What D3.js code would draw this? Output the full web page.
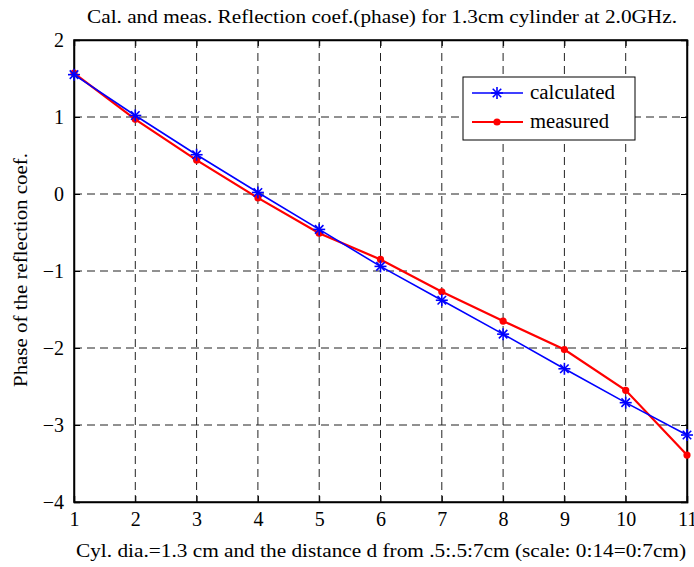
<!DOCTYPE html>
<meta charset="utf-8">
<script src="https://d3js.org/d3.v7.min.js"></script>
<style>
  body { margin: 0; background: #fff; }
  text { font-family: "Liberation Serif", "DejaVu Serif", serif; fill: #000; }
</style>
<div id="chart"></div>
<script>

// data
var xs = [1, 2, 3, 4, 5, 6, 7, 8, 9, 10, 11];
var calculated = [1.55, 1.02, 0.51, 0.02, -0.46, -0.94, -1.38, -1.82, -2.27, -2.71, -3.13];
var measured = [1.57, 0.97, 0.44, -0.05, -0.51, -0.85, -1.27, -1.65, -2.02, -2.55, -3.39];
var xTicks = [1, 2, 3, 4, 5, 6, 7, 8, 9, 10, 11];
var yTicks = [-4, -3, -2, -1, 0, 1, 2];

var W = 694, H = 567;
var margin = {top: 40, right: 7, bottom: 65, left: 74},
    width = W - margin.left - margin.right,
    height = H - margin.top - margin.bottom;

var svg = d3.select("#chart").append("svg")
    .attr("width", W).attr("height", H);
var g = svg.append("g")
    .attr("transform", "translate(" + margin.left + "," + margin.top + ")");

var x = d3.scaleLinear().domain([1, 11]).range([0, width]);
var y = d3.scaleLinear().domain([-4, 2]).range([height, 0]);

// dashed grid
g.append("g").selectAll("line").data(xTicks.slice(1, -1)).enter().append("line")
    .attr("x1", d => x(d)).attr("x2", d => x(d))
    .attr("y1", 0).attr("y2", height)
    .attr("stroke", "#222").attr("stroke-width", 1).attr("stroke-dasharray", "8,5");
g.append("g").selectAll("line").data(yTicks.slice(1, -1)).enter().append("line")
    .attr("y1", d => y(d)).attr("y2", d => y(d))
    .attr("x1", 0).attr("x2", width)
    .attr("stroke", "#222").attr("stroke-width", 1).attr("stroke-dasharray", "8,5");

// axes (ticks pointing in, like matlab)
g.append("g").attr("transform", "translate(0," + height + ")")
    .call(d3.axisBottom(x).tickValues(xTicks).tickSize(-6).tickPadding(10).tickFormat(d3.format("d")));
g.append("g")
    .call(d3.axisLeft(y).tickValues(yTicks).tickSize(-6).tickPadding(10)
      .tickFormat(d => d < 0 ? "\u2212" + Math.abs(d) : d));
g.append("g").call(d3.axisTop(x).tickValues(xTicks).tickSize(-6).tickFormat(""));
g.append("g").attr("transform", "translate(" + width + ",0)")
    .call(d3.axisRight(y).tickValues(yTicks).tickSize(-6).tickFormat(""));
g.selectAll(".domain").attr("stroke", "#000").attr("stroke-width", 1.5);
g.selectAll(".tick line").attr("stroke", "#000");
g.selectAll(".tick text").style("font-size", "20px").attr("fill", "#000");

// box
g.append("rect").attr("width", width).attr("height", height)
    .attr("fill", "none").attr("stroke", "#000").attr("stroke-width", 1.5);

var line = d3.line().x((d, i) => x(xs[i])).y(d => y(d));

// asterisk marker
function star(sel, cx, cy, r, color) {
  [0, 45, 90, 135].forEach(function(deg) {
    var rad = deg * Math.PI / 180;
    sel.append("line")
      .attr("x1", cx - r * Math.cos(rad)).attr("y1", cy - r * Math.sin(rad))
      .attr("x2", cx + r * Math.cos(rad)).attr("y2", cy + r * Math.sin(rad))
      .attr("stroke", color).attr("stroke-width", 1.6);
  });
}

// measured (red)
g.append("path").datum(measured).attr("d", line)
    .attr("fill", "none").attr("stroke", "#ff0000").attr("stroke-width", 2.2);
g.append("g").selectAll("circle").data(measured).enter().append("circle")
    .attr("cx", (d, i) => x(xs[i])).attr("cy", d => y(d)).attr("r", 3.6)
    .attr("fill", "#ff0000");

// calculated (blue)
g.append("path").datum(calculated).attr("d", line)
    .attr("fill", "none").attr("stroke", "#0000ff").attr("stroke-width", 1.6);
var starG = g.append("g");
calculated.forEach(function(d, i) { star(starG, x(xs[i]), y(d), 6, "#0000ff"); });

// legend
var lg = svg.append("g");
lg.append("rect").attr("x", 463).attr("y", 77).attr("width", 172).attr("height", 63)
    .attr("fill", "#fff").attr("stroke", "#000").attr("stroke-width", 1);
lg.append("line").attr("x1", 472).attr("x2", 523).attr("y1", 93).attr("y2", 93)
    .attr("stroke", "#0000ff").attr("stroke-width", 1.6);
star(lg, 497, 93, 6, "#0000ff");
lg.append("line").attr("x1", 472).attr("x2", 523).attr("y1", 122).attr("y2", 122)
    .attr("stroke", "#ff0000").attr("stroke-width", 2.2);
lg.append("circle").attr("cx", 497).attr("cy", 122).attr("r", 3.6).attr("fill", "#ff0000");
lg.append("text").attr("x", 530).attr("y", 99).style("font-size", "20px")
    .attr("textLength", 85).attr("lengthAdjust", "spacingAndGlyphs").text("calculated");
lg.append("text").attr("x", 530).attr("y", 128).style("font-size", "20px")
    .attr("textLength", 79).attr("lengthAdjust", "spacingAndGlyphs").text("measured");

// titles
svg.append("text").attr("x", 382).attr("y", 23).attr("text-anchor", "middle")
    .style("font-size", "19px").attr("textLength", 590).attr("lengthAdjust", "spacingAndGlyphs")
    .text("Cal. and meas. Reflection coef.(phase) for 1.3cm cylinder at 2.0GHz.");
svg.append("text").attr("x", 381).attr("y", 557).attr("text-anchor", "middle")
    .style("font-size", "19px").attr("textLength", 610).attr("lengthAdjust", "spacingAndGlyphs")
    .text("Cyl. dia.=1.3 cm and the distance d from .5:.5:7cm (scale: 0:14=0:7cm)");
svg.append("text").attr("transform", "translate(27,270) rotate(-90)")
    .attr("text-anchor", "middle").style("font-size", "19px")
    .attr("textLength", 234).attr("lengthAdjust", "spacingAndGlyphs")
    .text("Phase of the reflection coef.");

</script>
